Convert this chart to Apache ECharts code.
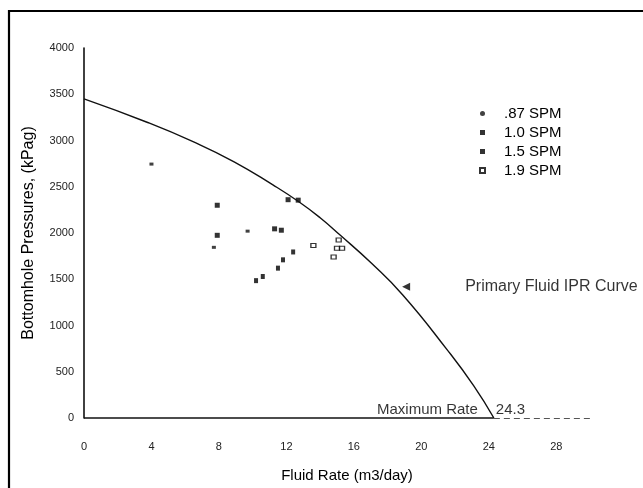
<!DOCTYPE html>
<html>
<head>
<meta charset="utf-8">
<title>IPR Curve</title>
<script src="https://cdn.jsdelivr.net/npm/echarts@6/dist/echarts.min.js"></script>
<style>
  html, body { margin: 0; padding: 0; background: #fff; }
  #chart { width: 643px; height: 488px; }
</style>
</head>
<body>
<div id="chart"></div>
<script>
// IPR curve
var curveRate = [0, 3.7, 6.5, 8.9, 11.2, 12.8, 14.0, 15.2, 17.0, 18.9, 21.5, 23.1, 24.3];
var curvePressure = [3450, 3200, 2985, 2770, 2520, 2330, 2165, 1975, 1680, 1330, 745, 350, 0];

// measured points by pump speed
var rate087 = [4.0, 7.7, 9.7];
var press087 = [2745, 1845, 2020];
var rate10 = [7.9, 7.9, 11.3, 11.7, 12.1, 12.7];
var press10 = [2300, 1975, 2045, 2030, 2360, 2355];
var rate15 = [10.2, 10.6, 11.5, 11.8, 12.4];
var press15 = [1485, 1530, 1620, 1710, 1795];
var rate19 = [13.6, 14.8, 15.0, 15.3, 15.1];
var press19 = [1865, 1740, 1835, 1835, 1925];

var seriesNames = ['.87 SPM', '1.0 SPM', '1.5 SPM', '1.9 SPM'];

// annotations
var curveLabel = 'Primary Fluid IPR Curve';
var arrowPoint = [19.1, 1420];
var maxRate = 24.3;
var xMax = 30;

function pairs (xs, ys) {
    var out = [];
    for (var i = 0; i < xs.length; i++) {
        out.push([xs[i], ys[i]]);
    }
    return out;
}

var myChart = echarts.init(document.getElementById('chart'));
var option = {
    animation: false,
    textStyle: { fontFamily: 'Liberation Sans, Arial, sans-serif', color: '#000' },
    grid: { left: 84, right: 53, top: 48, bottom: 65 },
    legend: {
        orient: 'vertical',
        left: 479,
        top: 106,
        padding: 0,
        itemGap: 4,
        itemWidth: 5,
        itemHeight: 5,
        textStyle: { fontSize: 15, color: '#000', padding: [0, 0, 0, 14] },
        data: [
            { name: seriesNames[0], icon: 'circle' },
            { name: seriesNames[1], icon: 'rect' },
            { name: seriesNames[2], icon: 'rect' },
            { name: seriesNames[3], icon: 'rect' }
        ]
    },
    xAxis: {
        type: 'value',
        min: 0,
        max: xMax,
        interval: 4,
        name: 'Fluid Rate (m3/day)',
        nameLocation: 'middle',
        nameGap: 50,
        nameTextStyle: { fontSize: 15, color: '#000', padding: [0, 0, 0, 20] },
        axisLine: { show: false },
        axisTick: { show: false },
        splitLine: { show: false },
        axisLabel: { margin: 23, fontSize: 11, color: '#222', showMaxLabel: false }
    },
    yAxis: {
        type: 'value',
        min: 0,
        max: 4000,
        interval: 500,
        name: 'Bottomhole Pressures, (kPag)',
        nameLocation: 'middle',
        nameGap: 47,
        nameTextStyle: { fontSize: 16, color: '#000' },
        axisLine: { show: true, lineStyle: { color: '#111', width: 1.6 } },
        axisTick: { show: false },
        splitLine: { show: false },
        axisLabel: {
            margin: 10,
            fontSize: 11,
            color: '#222',
            formatter: function (v) { return String(v); }
        }
    },
    series: [
        {
            name: 'IPR',
            type: 'line',
            data: pairs(curveRate, curvePressure),
            smooth: 0.5,
            showSymbol: false,
            lineStyle: { color: '#111', width: 1.4 },
            markLine: {
                silent: true,
                symbol: 'none',
                label: { show: false },
                data: [
                    [{ coord: [0, 0], lineStyle: { type: 'solid', color: '#111', width: 1.5 } }, { coord: [maxRate, 0] }],
                    [{ coord: [maxRate, 0], lineStyle: { type: [6, 4], color: '#555', width: 1.2 } }, { coord: [xMax, 0] }]
                ]
            }
        },
        {
            name: seriesNames[0],
            type: 'scatter',
            data: pairs(rate087, press087),
            symbol: 'rect',
            symbolSize: [4, 3],
            itemStyle: { color: '#111' }
        },
        {
            name: seriesNames[1],
            type: 'scatter',
            data: pairs(rate10, press10),
            symbol: 'rect',
            symbolSize: [5, 5],
            itemStyle: { color: '#000' }
        },
        {
            name: seriesNames[2],
            type: 'scatter',
            data: pairs(rate15, press15),
            symbol: 'rect',
            symbolSize: [4, 5],
            itemStyle: { color: '#000' }
        },
        {
            name: seriesNames[3],
            type: 'scatter',
            data: pairs(rate19, press19),
            symbol: 'rect',
            symbolSize: [5, 4],
            itemStyle: { color: '#fff', borderColor: '#000', borderWidth: 1.2 }
        },
        {
            name: 'note',
            type: 'scatter',
            silent: true,
            data: [{ value: arrowPoint, name: curveLabel }],
            symbol: 'triangle',
            symbolSize: [8, 8],
            symbolRotate: 90,
            itemStyle: { color: '#000' },
            label: {
                show: true,
                position: 'right',
                distance: 55,
                formatter: '{b}',
                fontSize: 16,
                color: '#000'
            }
        },
        {
            name: 'max',
            type: 'scatter',
            silent: true,
            symbolSize: 0,
            data: [
                { value: [maxRate, 0], label: { position: 'left', distance: 16, formatter: 'Maximum Rate' } },
                { value: [maxRate, 0], label: { position: 'right', distance: 2, formatter: String(maxRate) } }
            ],
            label: { show: true, fontSize: 15, color: '#000', offset: [0, -8] }
        }
    ],
    graphic: [
        {
            type: 'polyline',
            shape: { points: [[9, 488], [9, 11], [643, 11]] },
            style: { stroke: '#000', lineWidth: 2.2, fill: null }
        }
    ]
};
myChart.setOption(option);
</script>
</body>
</html>
